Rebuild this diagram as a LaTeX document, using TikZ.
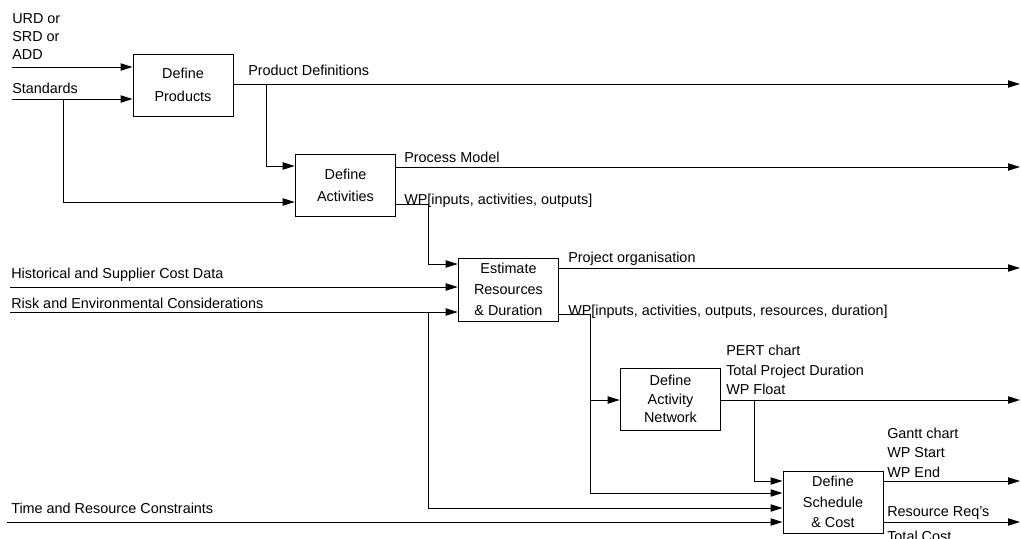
\documentclass[tikz,border=0pt]{standalone}
\usepackage{fontspec}
\setmainfont{Liberation Sans}
\usetikzlibrary{arrows.meta}

\begin{document}
\begin{tikzpicture}[x=0.75pt,y=-0.75pt,
    proc/.style={draw, line width=0.75pt, align=center, inner sep=0pt,
        minimum width=75.5pt, minimum height=46.5pt,
        font=\fontsize{10.8}{15.5}\selectfont},
    flow/.style={line width=0.75pt, -{Triangle[length=9pt,width=5.5pt]}},
    lbl/.style={anchor=base west, inner sep=0pt, font=\fontsize{10.8}{13}\selectfont},
    lbls/.style={anchor=north west, inner sep=0pt, align=left, font=\fontsize{10.8}{14.5}\selectfont}]
    \useasboundingbox (0,0) rectangle (1021,539);
    \clip (0,0) rectangle (1021,539);

    % process boxes
    \node[proc, minimum width=75pt, font=\fontsize{10.8}{17}\selectfont] (prod) at (183,85) {Define\\Products};
    \node[proc, font=\fontsize{10.8}{16.3}\selectfont] (act) at (345.5,185) {Define\\Activities};
    \node[proc, minimum height=47.25pt] (est) at (508.5,289.5) {Estimate\\Resources\\\& Duration};
    \node[proc, font=\fontsize{10.8}{14}\selectfont] (net) at (670.5,399) {Define\\Activity\\Network};
    \node[proc, minimum width=75pt] (sched) at (833,502) {Define\\Schedule\\\& Cost};

    % free ends and bends
    \coordinate (urd) at (12,67);
    \coordinate (std) at (12,99);
    \coordinate (hist) at (10,287);
    \coordinate (risk) at (10,312);
    \coordinate (trc) at (7,522);
    \coordinate (pdend) at (1020,84);
    \coordinate (pmend) at (1020,167);
    \coordinate (poend) at (1020,268);
    \coordinate (pertend) at (1020,400);
    \coordinate (ganttend) at (1020,481);
    \coordinate (resend) at (1020,522);
    \coordinate (pdtap) at (266,84);   \coordinate (pdbend) at (266,166);
    \coordinate (stdtap) at (63,99);   \coordinate (stdbend) at (63,202);
    \coordinate (wpa1) at (428,204);   \coordinate (wpa2) at (428,264);
    \coordinate (wpe1) at (590,314);   \coordinate (wpe2) at (590,400);
    \coordinate (wpe3) at (590,493);
    \coordinate (flt1) at (754,400);   \coordinate (flt2) at (754,481);
    \coordinate (risktap) at (428,312); \coordinate (riskbend) at (428,508);

    % labels
    \node[lbls, align=left, font=\fontsize{10.8}{13.5}\selectfont] (urdlbl) at (12,13) {URD or\\SRD or\\ADD};
    \node[lbl] (stdlbl) at (12,93.7) {Standards};
    \node[lbl] (pdlbl) at (248,75.4) {Product Definitions};
    \node[lbl] (pmlbl) at (404,162) {Process Model};
    \node[lbl] (wpalbl) at (404,204.7) {WP[inputs, activities, outputs]};
    \node[lbl] (histlbl) at (11,278.7) {Historical and Supplier Cost Data};
    \node[lbl] (risklbl) at (11,308.7) {Risk and Environmental Considerations};
    \node[lbl] (polbl) at (568,262) {Project organisation};
    \node[lbl] (wpelbl) at (568,315.5) {WP[inputs, activities, outputs, resources, duration]};
    \node[lbls] (pertlbl) at (726,345) {PERT chart\\Total Project Duration\\WP Float};
    \node[lbls, font=\fontsize{10.8}{14.7}\selectfont] (ganttlbl) at (887,427.3) {Gantt chart\\WP Start\\WP End};
    \node[lbl] (reslbl) at (887,516.4) {Resource Req's};
    \node[lbl] (costlbl) at (887,541) {Total Cost};
    \node[lbl] (trclbl) at (11,513.7) {Time and Resource Constraints};

    % connectors
    \draw[flow] (urd) -- (urd -| prod.west);
    \draw[flow] (std) -- (std -| prod.west);
    \draw[flow] (prod.east |- pdend) -- (pdend);
    \draw[flow] (pdtap) -- (pdbend) -- (pdbend -| act.west);
    \draw[flow] (stdtap) -- (stdbend) -- (stdbend -| act.west);
    \draw[flow] (act.east |- pmend) -- (pmend);
    \draw[flow] (act.east |- wpa1) -- (wpa1) -- (wpa2) -- (wpa2 -| est.west);
    \draw[flow] (hist) -- (hist -| est.west);
    \draw[flow] (risk) -- (risk -| est.west);
    \draw[flow] (est.east |- poend) -- (poend);
    \draw[flow] (est.east |- wpe1) -- (wpe1) -- (wpe3) -- (wpe3 -| sched.west);
    \draw[flow] (wpe2) -- (wpe2 -| net.west);
    \draw[flow] (net.east |- pertend) -- (pertend);
    \draw[flow] (flt1) -- (flt2) -- (flt2 -| sched.west);
    \draw[flow] (risktap) -- (riskbend) -- (riskbend -| sched.west);
    \draw[flow] (trc) -- (trc -| sched.west);
    \draw[flow] (sched.east |- ganttend) -- (ganttend);
    \draw[flow] (sched.east |- resend) -- (resend);
\end{tikzpicture}
\end{document}
